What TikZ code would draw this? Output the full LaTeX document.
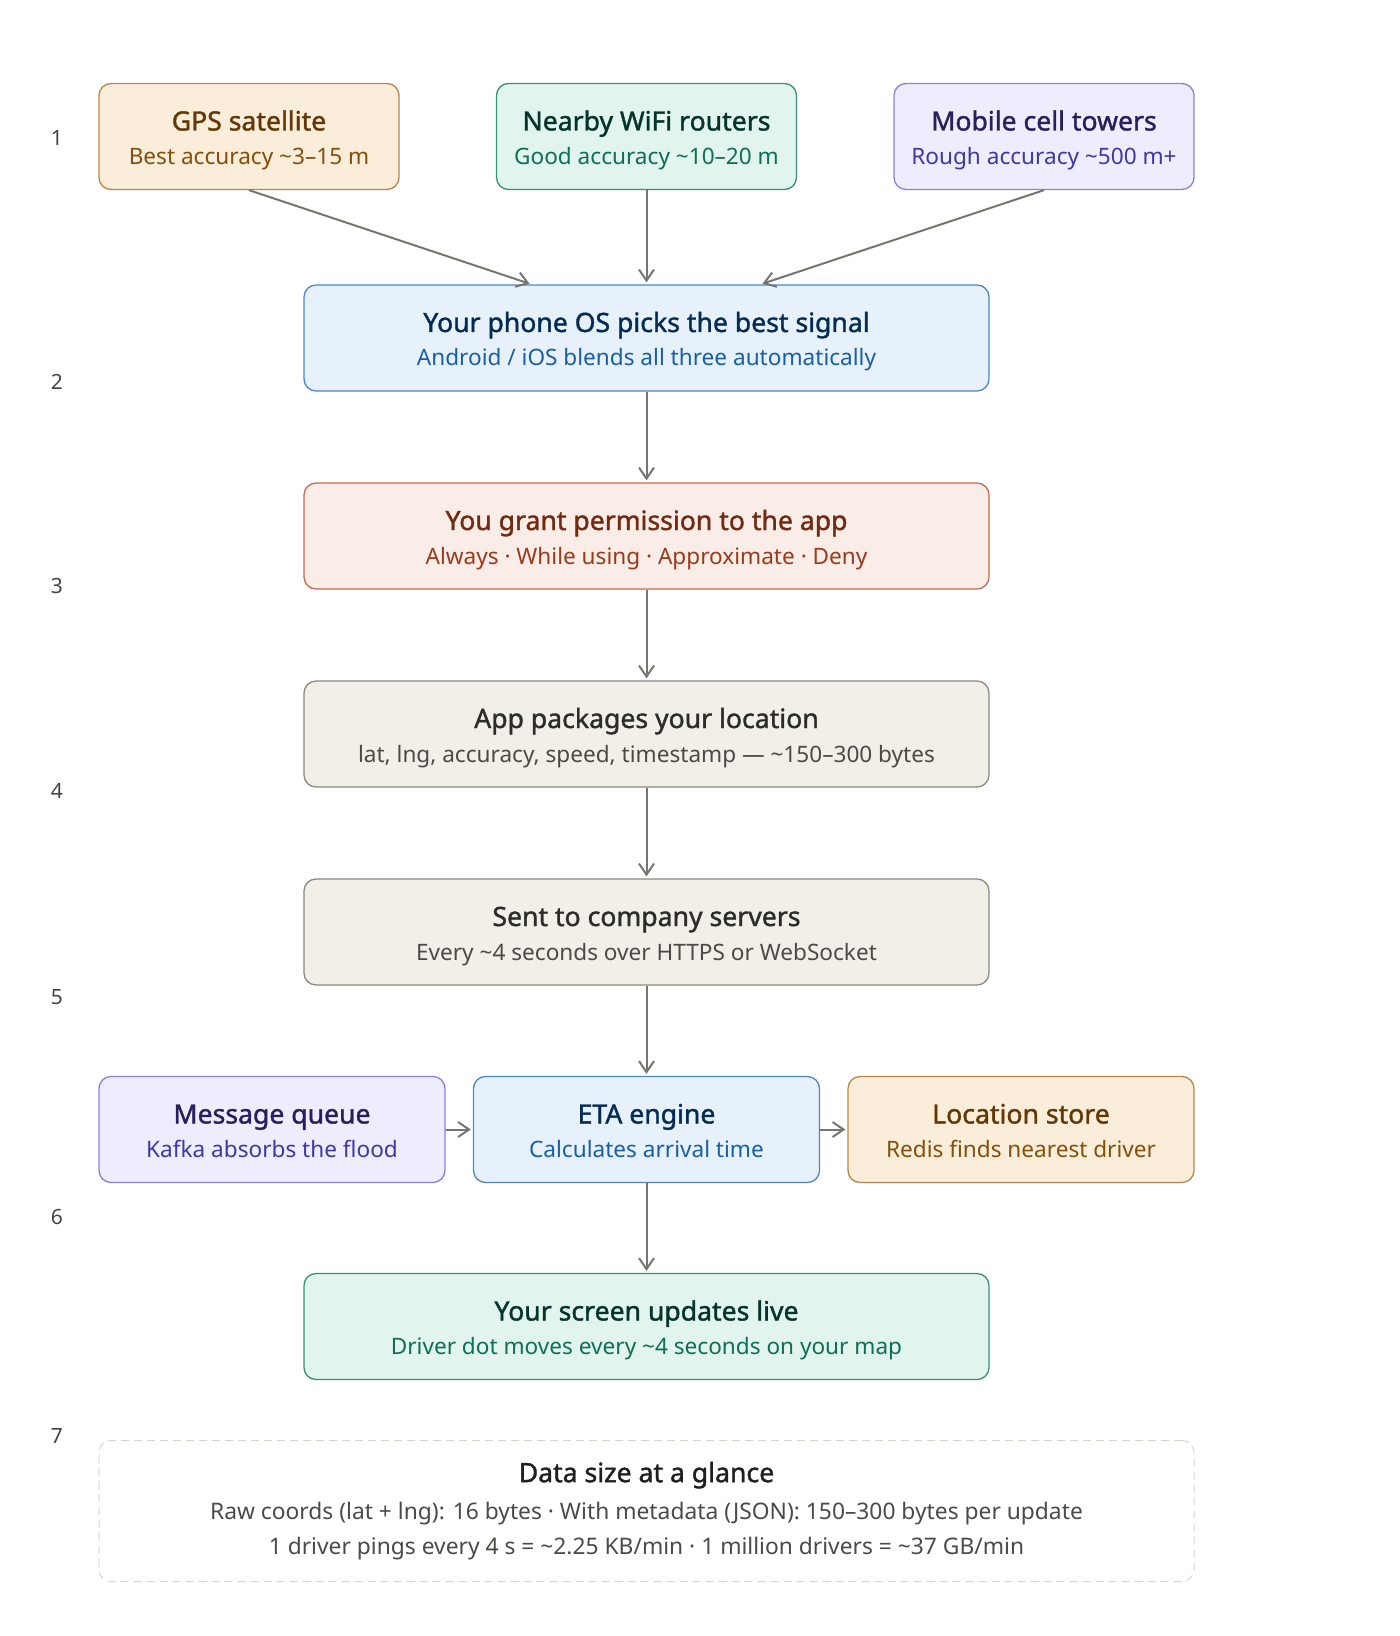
\documentclass[tikz,border=0pt]{standalone}
\usepackage{fontspec}
\setmainfont{Noto Sans}
\newfontfamily\ttlfont{Noto Sans}[FakeBold=1.4]
\usepackage{xcolor}
\usepackage{tikz}
\usetikzlibrary{arrows.meta}

\definecolor{amberF}{HTML}{FAEEDA}
\definecolor{amberD}{HTML}{B8864A}
\definecolor{amberT}{HTML}{633806}
\definecolor{amberS}{HTML}{854F0B}
\definecolor{tealF}{HTML}{E1F5EE}
\definecolor{tealD}{HTML}{3B8F74}
\definecolor{tealT}{HTML}{04342C}
\definecolor{tealS}{HTML}{0F6E56}
\definecolor{purpleF}{HTML}{EEEDFE}
\definecolor{purpleD}{HTML}{8A82DA}
\definecolor{purpleT}{HTML}{26215C}
\definecolor{purpleS}{HTML}{4038A0}
\definecolor{blueF}{HTML}{E6F1FB}
\definecolor{blueD}{HTML}{4F87C6}
\definecolor{blueT}{HTML}{042C53}
\definecolor{blueS}{HTML}{185FA5}
\definecolor{coralF}{HTML}{FAECE7}
\definecolor{coralD}{HTML}{C46A55}
\definecolor{coralT}{HTML}{712B13}
\definecolor{coralS}{HTML}{993C1D}
\definecolor{grayF}{HTML}{F1EFE8}
\definecolor{grayD}{HTML}{8A8982}
\definecolor{grayT}{HTML}{2C2C2A}
\definecolor{grayS}{HTML}{4A4A47}
\definecolor{dashD}{HTML}{D8D6CE}
\definecolor{arrowC}{HTML}{767570}
\definecolor{stepC}{HTML}{444441}

\newcommand{\apx}{\char126\relax}
\newcommand{\lbl}[3]{{\ttlfont\fontsize{13.3}{17}\selectfont\color{#1T}\rule{0pt}{14pt}#2}\\{\color{#1S}#3\rule[-3pt]{0pt}{0pt}}}

\tikzset{
  box/.style={draw, rounded corners=6pt, line width=0.65pt, align=center, inner sep=0pt,
    minimum height=53pt, font=\fontsize{11.3}{17}\selectfont},
  small/.style={box, minimum width=150pt},
  wide/.style={box, minimum width=342.5pt},
  mid/.style={box, minimum width=173pt},
  amber/.style={fill=amberF, draw=amberD},
  teal/.style={fill=tealF, draw=tealD},
  purple/.style={fill=purpleF, draw=purpleD},
  blue/.style={fill=blueF, draw=blueD},
  coral/.style={fill=coralF, draw=coralD},
  stone/.style={fill=grayF, draw=grayD},
  arr/.style={-{Straight Barb[length=5.5pt,width=7.5pt]}, draw=arrowC, line width=1pt, shorten >=1pt},
  steplbl/.style={text=stepC, font=\fontsize{10.5}{12}\selectfont}
}

\begin{document}
\begin{tikzpicture}[x=0.5pt, y=-0.5pt]
\useasboundingbox (0,0) rectangle (1400,1636);
%\draw[step=100,gray,very thin] (0,0) grid (1400,1636);

% row 1: the three signal sources
\node[small, amber] (gps) at (249,136.5) {\lbl{amber}{GPS satellite}{Best accuracy \apx3--15 m}};
\node[small, teal] (wifi) at (646.5,136.5) {\lbl{teal}{Nearby WiFi routers}{Good accuracy \apx10--20 m}};
\node[small, purple] (cell) at (1044,136.5) {\lbl{purple}{Mobile cell towers}{Rough accuracy \apx500 m+}};

% the main chain
\node[wide, blue] (phone) at (646.5,338) {\lbl{blue}{Your phone OS picks the best signal}{Android / iOS blends all three automatically}};
\node[wide, coral] (perm) at (646.5,536) {\lbl{coral}{You grant permission to the app}{Always · While using · Approximate · Deny}};
\node[wide, stone] (pack) at (646.5,734) {\lbl{gray}{App packages your location}{lat, lng, accuracy, speed, timestamp --- \apx150--300 bytes}};
\node[wide, stone] (send) at (646.5,932) {\lbl{gray}{Sent to company servers}{Every \apx4 seconds over HTTPS or WebSocket}};

% row 6: server side
\node[mid, purple] (queue) at (272,1129.5) {\lbl{purple}{Message queue}{Kafka absorbs the flood}};
\node[mid, blue] (eta) at (646.5,1129.5) {\lbl{blue}{ETA engine}{Calculates arrival time}};
\node[mid, amber] (store) at (1021,1129.5) {\lbl{amber}{Location store}{Redis finds nearest driver}};

\node[wide, teal] (screen) at (646.5,1326.5) {\lbl{teal}{Your screen updates live}{Driver dot moves every \apx4 seconds on your map}};

% summary
\node[draw=dashD, dash pattern=on 4pt off 2.5pt, line width=0.5pt, rounded corners=6pt,
  minimum width=547.5pt, minimum height=70.5pt, inner sep=0pt, align=center,
  text=grayS, font=\fontsize{11.4}{17.5}\selectfont] (summary) at (646.5,1511)
  {{\ttlfont\fontsize{13.3}{17}\selectfont\color{black!88}Data size at a glance}\\[1.25pt]
   Raw coords (lat + lng): 16 bytes · With metadata (JSON): 150--300 bytes per update\\
   1 driver pings every 4 s = \apx2.25 KB/min · 1 million drivers = \apx37 GB/min};

% step numbers
\node[steplbl] (n1) at (57,138) {1};
\node[steplbl] (n2) at (57,382) {2};
\node[steplbl] (n3) at (57,586) {3};
\node[steplbl] (n4) at (57,791) {4};
\node[steplbl] (n5) at (57,997) {5};
\node[steplbl] (n6) at (57,1217) {6};
\node[steplbl] (n7) at (57,1436) {7};

% connectors
\draw[arr] (gps.south) -- ([xshift=-57.5pt]phone.north);
\draw[arr] (wifi.south) -- (phone.north);
\draw[arr] (cell.south) -- ([xshift=57pt]phone.north);
\draw[arr] (phone.south) -- (perm.north);
\draw[arr] (perm.south) -- (pack.north);
\draw[arr] (pack.south) -- (send.north);
\draw[arr] (send.south) -- (eta.north);
\draw[arr] (queue.east) -- (eta.west);
\draw[arr] (eta.east) -- (store.west);
\draw[arr] (eta.south) -- (screen.north);
\end{tikzpicture}
\end{document}
